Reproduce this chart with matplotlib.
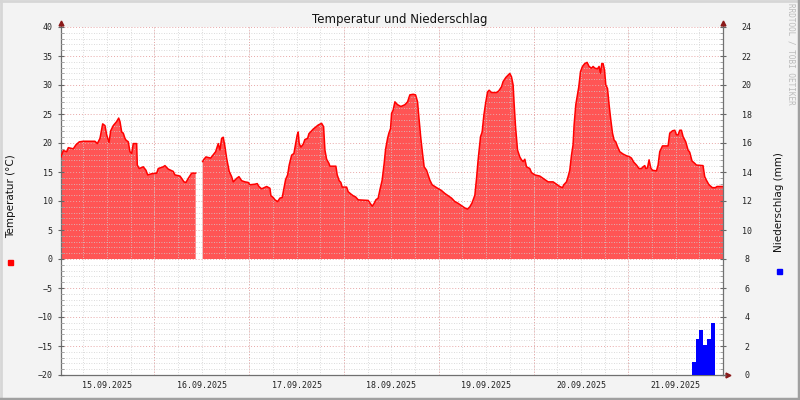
import numpy as np
import matplotlib.pyplot as plt
from matplotlib.patches import Rectangle
from matplotlib.lines import Line2D

plt.rcParams['font.family'] = 'DejaVu Sans Mono'

# Stunden ab 15.09.2025 00:00, Temperatur in Grad C (nan = Luecke)
temp_hours = [0.39, 0.97, 1.83, 2.24, 3.50, 4.19, 5.02, 6.03, 8.99, 9.58, 10.26, 10.94,
              11.52, 11.95, 12.54, 12.97, 13.62, 14.48, 14.99, 15.32, 15.75, 16.15, 16.58,
              16.84, 17.42, 17.85, 18.28, 18.68, 19.54, 19.70, 20.20, 21.21, 21.90, 22.33,
              23.34, 24.60, 25.01, 26.27, 26.70, 27.54, 28.80, 29.23, 30.50, 30.93, 31.51,
              32.02, 32.60, 33.46, 34.47, 35.3,
              36.24, 36.57, 37.08, 38.27, 39.53, 40.19, 40.62, 41.05, 41.45, 41.88, 42.31,
              42.97, 43.58, 43.98, 44.84, 45.43, 46.11, 46.95, 47.78, 48.21, 49.48, 50.06,
              50.49, 51.17, 52.44, 53.27, 53.53, 54.11, 54.54, 55.22, 55.80, 56.38, 56.89,
              57.24, 57.75, 58.15, 58.76, 59.34, 59.85, 60.18, 60.43, 60.68, 61.11, 61.70,
              62.12, 62.81, 63.14, 64.23, 65.49, 66.35, 66.86, 67.19, 67.62, 68.20, 68.45,
              69.97, 70.30, 70.81, 71.23, 71.56, 72.68, 73.08, 73.77, 74.35, 74.96, 75.62,
              78.15, 78.75, 79.16, 79.66, 80.09, 80.67, 81.10, 81.68, 82.19, 82.54, 83.05,
              83.38, 83.81, 84.06, 84.47, 84.90, 85.58, 86.42, 87.43, 88.11, 88.69, 89.53,
              90.14, 90.64, 90.97, 91.47, 91.90, 92.31, 92.92, 93.32, 93.75, 94.33, 95.02,
              95.70, 96.71, 97.55, 98.38, 99.24, 100.08, 100.91, 101.77, 102.61, 103.29,
              103.87, 104.45, 105.14, 105.57, 105.97, 106.58, 106.99, 107.42, 107.85,
              108.35, 108.76, 109.36, 110.63, 111.21, 111.89, 112.30, 112.98, 113.56,
              113.99, 114.42, 114.83, 115.08, 115.44, 115.94, 116.52, 116.95, 117.36,
              117.79, 118.22, 119.05, 119.48, 120.32, 121.58, 122.42, 123.69, 124.95,
              125.81, 126.64, 127.31, 127.65, 128.33, 128.74, 129.17, 129.60, 130.00,
              130.26, 130.69, 131.12, 131.45, 131.88, 132.38, 132.96, 133.55, 134.05,
              134.66, 135.07, 135.50, 136.18, 136.59, 136.94, 137.27, 137.60, 137.96,
              138.29, 138.72, 139.12, 139.55, 139.98, 140.39, 140.81, 141.24, 141.82,
              142.66, 143.52, 144.35, 144.78, 145.36, 146.05, 146.70, 147.31, 147.72,
              148.15, 148.40, 148.83, 149.24, 149.67, 150.10, 151.11, 151.52, 151.94,
              152.63, 154.05, 154.47, 155.16, 155.74, 156.17, 156.58, 157.00, 157.43,
              157.84, 158.52, 159.10, 159.53, 160.11, 160.79, 161.22, 162.89, 163.32,
              163.74, 164.40, 165.26, 166.02, 166.43, 167.95]
temp_vals = [17.6, 18.7, 18.5, 19.2, 19.0, 19.7, 20.2, 20.3, 20.3, 19.9, 20.8, 23.3,
             23.0, 21.4, 20.1, 22.1, 23.0, 23.7, 24.3, 23.7, 21.9, 21.7, 20.8,
             20.5, 20.2, 18.5, 18.2, 19.9, 19.9, 16.2, 15.6, 15.9, 15.3, 14.5,
             14.7, 14.8, 15.6, 15.9, 16.1, 15.5, 15.1, 14.5, 14.3, 13.9, 13.3,
             13.2, 13.9, 14.8, 14.8, np.nan,
             16.8, 17.2, 17.6, 17.4, 18.5, 19.9, 18.8, 20.8, 21.0, 19.4, 17.4,
             15.1, 14.2, 13.3, 13.9, 14.2, 13.5, 13.3, 13.2, 12.8, 12.9, 13.0,
             12.5, 12.1, 12.5, 12.2, 10.9, 10.6, 10.2, 9.9, 10.5, 10.6, 12.4,
             13.7, 14.5, 16.2, 17.9, 18.2, 20.2, 21.4, 21.9, 19.9, 19.3, 19.8,
             20.6, 20.8, 21.6, 22.4, 23.1, 23.4, 22.8, 18.8, 17.2, 16.5, 16.0,
             16.0, 14.5, 13.5, 13.2, 12.4, 12.4, 11.6, 11.2, 10.9, 10.7, 10.2,
             10.1, 9.5, 9.1, 9.6, 10.2, 10.5, 11.9, 13.6, 16.5, 18.9, 20.8,
             21.7, 22.5, 25.1, 25.7, 27.1, 26.6, 26.3, 26.6, 27.1, 28.3, 28.4,
             28.3, 27.1, 24.5, 20.8, 18.2, 15.9, 15.3, 14.5, 13.6, 12.8, 12.5,
             12.2, 11.8, 11.3, 10.9, 10.5, 9.9, 9.6, 9.2, 8.8, 8.6,
             9.0, 9.7, 11.0, 13.9, 17.1, 21.1, 21.9, 24.8, 26.8,
             28.8, 29.1, 28.7, 28.7, 29.0, 29.7, 30.6, 31.3, 31.7,
             32.0, 31.4, 30.0, 26.8, 22.8, 18.8, 17.6, 17.1, 16.8,
             17.2, 15.9, 15.6, 14.9, 14.5, 14.3, 13.9, 13.3, 13.3,
             12.9, 12.5, 12.3, 12.8, 13.3, 14.2, 15.3, 17.9, 19.7,
             23.1, 26.6, 28.3, 29.7, 32.3, 33.2, 33.7, 33.9, 33.2,
             32.9, 33.2, 32.9, 32.8, 33.2, 32.0, 33.7, 33.7, 32.6,
             30.0, 29.4, 26.6, 24.0, 21.7, 20.5, 20.2, 19.4, 18.5,
             18.1, 17.8, 17.6, 17.4, 16.7, 16.2, 15.6, 15.6, 15.9,
             16.1, 15.6, 15.7, 17.1, 15.7, 15.3, 15.2, 16.2, 18.5,
             19.5, 19.5, 21.7, 22.1, 22.2, 21.4, 21.4, 22.2, 22.2,
             21.1, 20.2, 18.8, 18.4, 16.9, 16.5, 16.2, 16.1, 14.2,
             13.6, 12.8, 12.3, 12.3, 12.5, 12.5]

# Niederschlag in mm pro Stunde
rain_hours = [160, 161, 162, 163, 164, 165]
rain_mm = [0.9, 2.5, 3.1, 2.1, 2.5, 3.6]

day_labels = ['15.09.2025', '16.09.2025', '17.09.2025', '18.09.2025',
              '19.09.2025', '20.09.2025', '21.09.2025']

fig = plt.figure(figsize=(8, 4), dpi=100, facecolor='#f3f3f3')
ax = fig.add_axes([61 / 800, 25 / 400, 662 / 800, 348 / 400])
ax.set_facecolor('white')
ax.set_xlim(0.39, 167.95)
ax.set_ylim(-20, 40)

th = np.array(temp_hours)
tv = np.array(temp_vals)
ax.fill_between(th, 0, tv, color='#ff5555', linewidth=0, zorder=1)
ax.plot(th, tv, color='#ff0000', linewidth=1.1, zorder=3)

# Gitter
ax.set_axisbelow(False)
ax.set_yticks(np.arange(-20, 41, 5))
ax.set_yticks(np.arange(-20, 41, 1), minor=True)
ax.yaxis.grid(True, which='major', color='#e8a8a8', linestyle=(0, (1, 2)), linewidth=0.7)
ax.yaxis.grid(True, which='minor', color='#cfcfcf', linestyle=(0, (1, 2)), linewidth=0.6)

noon = [12 + 24 * i for i in range(len(day_labels))]
ax.set_xticks(noon, day_labels)
ax.set_xticks(np.arange(6, 168, 6), minor=True)
ax.xaxis.grid(True, which='both', color='#cfcfcf', linestyle=(0, (1, 2)), linewidth=0.6)
for d in range(1, 7):
    ax.axvline(24 * d, color='#e8a8a8', linestyle=(0, (1, 2)), linewidth=0.7, zorder=2.6)

ax.tick_params(axis='x', which='both', length=0, labelsize=6, pad=4, colors='#222222')
ax.tick_params(axis='y', which='major', direction='inout', length=4, labelsize=6,
               pad=4, color='#666666', labelcolor='#222222')
ax.tick_params(axis='y', which='minor', direction='in', length=2, color='#999999')

for s in ['top', 'right']:
    ax.spines[s].set_visible(False)
for s in ['left', 'bottom']:
    ax.spines[s].set_color('#707070')
    ax.spines[s].set_linewidth(0.9)

# Niederschlag rechte Achse
ax2 = ax.twinx()
ax2.set_ylim(0, 24)
ax2.bar(rain_hours, rain_mm, width=1.0, align='edge', color='#0000ff', linewidth=0)
ax2.set_yticks(np.arange(0, 25, 2), [str(v) for v in range(0, 25, 2)])
ax2.set_yticks(np.arange(0, 24.01, 0.4), minor=True)
ax2.tick_params(axis='y', which='major', direction='inout', length=4, labelsize=6,
                pad=15, color='#666666', labelcolor='#222222')
ax2.tick_params(axis='y', which='minor', direction='in', length=2, color='#999999')
for lbl in ax2.get_yticklabels():
    lbl.set_horizontalalignment('center')
for s in ['top', 'left', 'bottom']:
    ax2.spines[s].set_visible(False)
ax2.spines['right'].set_color('#707070')
ax2.spines['right'].set_linewidth(0.9)

# Pfeile an den Achsen
arrow = '#8b1a1a'
ax.add_line(Line2D([0, 0], [1, 1.012], transform=ax.transAxes, color='#707070',
                   linewidth=0.9, clip_on=False))
ax.add_line(Line2D([1, 1], [1, 1.012], transform=ax.transAxes, color='#707070',
                   linewidth=0.9, clip_on=False))
ax.add_line(Line2D([1, 1.008], [0, 0], transform=ax.transAxes, color='#707070',
                   linewidth=0.9, clip_on=False))
ax.plot([0], [1.012], marker='^', color=arrow, markersize=3.5, transform=ax.transAxes,
        clip_on=False, zorder=5)
ax.plot([1], [1.012], marker='^', color=arrow, markersize=3.5, transform=ax.transAxes,
        clip_on=False, zorder=5)
ax.plot([1.008], [0], marker='>', color=arrow, markersize=3.5, transform=ax.transAxes,
        clip_on=False, zorder=5)

fig.text(0.5, 1 - 19 / 400, 'Temperatur und Niederschlag', ha='center', va='center',
         fontsize=8.5, family='DejaVu Sans', color='#111111')
fig.text(11 / 800, 1 - 196 / 400, 'Temperatur (°C)', rotation=90, ha='center',
         va='center', fontsize=7.5, family='DejaVu Sans', color='#111111')
fig.text(779 / 800, 1 - 202 / 400, 'Niederschlag (mm)', rotation=90, ha='center',
         va='center', fontsize=7.5, family='DejaVu Sans', color='#111111')
fig.text(790.5 / 800, 1 - 54 / 400, 'RRDTOOL / TOBI OETIKER', rotation=270, ha='center',
         va='center', fontsize=5.5, color='#bbbbbb')

# Legendenquadrate
fig.patches.append(Rectangle((8 / 800, 1 - 265 / 400), 5 / 800, 5 / 400,
                             transform=fig.transFigure, color='#ff0000'))
fig.patches.append(Rectangle((777 / 800, 1 - 274 / 400), 5 / 800, 5 / 400,
                             transform=fig.transFigure, color='#0000ff'))

# Rahmen
fig.add_artist(Line2D([0, 1], [1 - 1 / 400] * 2, transform=fig.transFigure,
                      color='#d6d6d6', linewidth=2))
fig.add_artist(Line2D([1 / 800] * 2, [0, 1], transform=fig.transFigure,
                      color='#d6d6d6', linewidth=2))
fig.add_artist(Line2D([0, 1], [1 / 400] * 2, transform=fig.transFigure,
                      color='#a0a0a0', linewidth=2.5))
fig.add_artist(Line2D([1 - 1 / 800] * 2, [0, 1], transform=fig.transFigure,
                      color='#a0a0a0', linewidth=2.5))

fig.savefig('out.png', dpi=100, facecolor=fig.get_facecolor())
